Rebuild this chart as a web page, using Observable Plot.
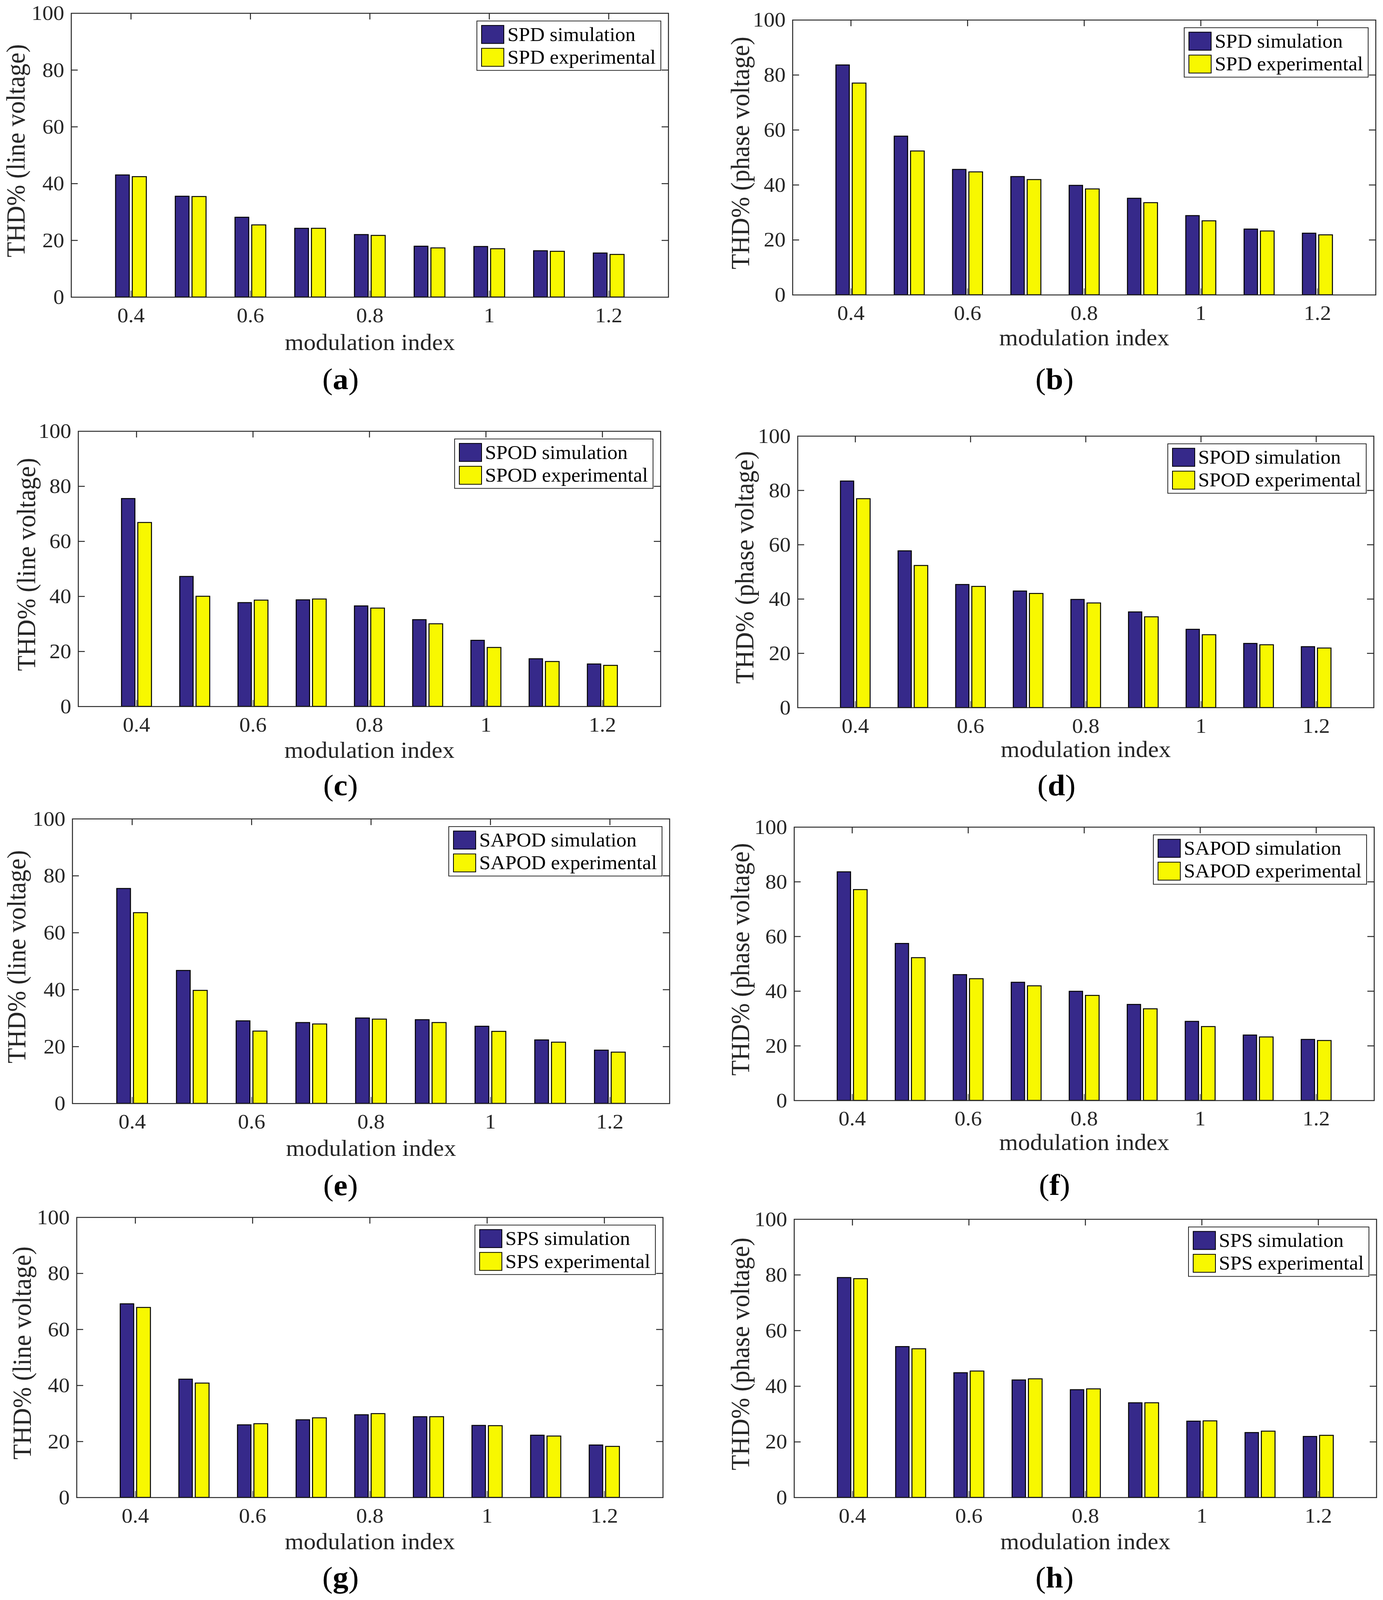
<!DOCTYPE html>
<html><head><meta charset="utf-8">
<script src="https://cdn.jsdelivr.net/npm/d3@7"></script>
<script src="https://cdn.jsdelivr.net/npm/@observablehq/plot@0.6"></script>
<style>
html,body{margin:0;padding:0;background:#fff;overflow:hidden}
#page{position:absolute;left:0;top:0;width:3541px;height:4272px;background:#fff;font-family:'Liberation Serif','Times New Roman',serif;transform-origin:0 0}
.panel{position:absolute}
.legend{position:absolute;border:2.5px solid #262626;background:#fff;padding:4px 12px 4px 10px;box-sizing:border-box}
.row{display:flex;align-items:center;height:61px}
.sw{width:59px;height:50px;border:2.5px solid #000;box-sizing:border-box;margin-right:8px;flex:none}
.lt{font-size:52px;line-height:61px;color:#000;white-space:nowrap}
.tag{position:absolute;width:400px;text-align:center;font-size:80px;line-height:90px;color:#000}
</style>
</head><body><div id="page"></div>
<script>
// ---- data ----
const mIndex = [0.4, 0.5, 0.6, 0.7, 0.8, 0.9, 1.0, 1.1, 1.2];
const xTicks = [0.4, 0.6, 0.8, 1.0, 1.2];
const xTickLabels = ["0.4", "0.6", "0.8", "1", "1.2"];
const yTicks = [0, 20, 40, 60, 80, 100];

const spdLineSim   = [43.0, 35.5, 28.1, 24.2, 22.0, 17.9, 17.8, 16.3, 15.5];
const spdLineExp   = [42.4, 35.4, 25.4, 24.2, 21.7, 17.3, 17.0, 16.1, 15.0];
const spdPhaseSim  = [83.6, 57.7, 45.6, 43.0, 39.8, 35.1, 28.8, 23.9, 22.4];
const spdPhaseExp  = [77.0, 52.3, 44.7, 41.9, 38.5, 33.5, 26.9, 23.2, 21.8];
const spodLineSim  = [75.5, 47.2, 37.7, 38.7, 36.5, 31.5, 24.0, 17.3, 15.4];
const spodLineExp  = [66.8, 40.0, 38.6, 39.0, 35.7, 30.0, 21.4, 16.3, 14.9];
const spodPhaseSim = [83.4, 57.7, 45.3, 42.9, 39.8, 35.2, 28.8, 23.6, 22.4];
const spodPhaseExp = [76.9, 52.3, 44.6, 42.0, 38.5, 33.4, 26.8, 23.1, 21.9];
const sapodLineSim = [75.5, 46.7, 29.0, 28.4, 30.0, 29.4, 27.1, 22.3, 18.7];
const sapodLineExp = [67.0, 39.7, 25.4, 27.9, 29.6, 28.4, 25.3, 21.5, 18.0];
const sapodPhaseSim= [83.6, 57.4, 46.0, 43.2, 39.9, 35.1, 28.9, 23.9, 22.3];
const sapodPhaseExp= [77.1, 52.2, 44.5, 41.9, 38.4, 33.5, 27.0, 23.2, 21.9];
const spsLineSim   = [69.1, 42.2, 25.9, 27.7, 29.5, 28.8, 25.7, 22.2, 18.7];
const spsLineExp   = [67.8, 40.8, 26.3, 28.4, 29.9, 28.8, 25.6, 21.9, 18.2];
const spsPhaseSim  = [79.0, 54.2, 44.8, 42.2, 38.7, 34.0, 27.4, 23.3, 21.9];
const spsPhaseExp  = [78.6, 53.4, 45.4, 42.6, 39.0, 34.0, 27.5, 23.8, 22.3];

const xLabel = "modulation index";
const yLabelLine = "THD% (line voltage)";
const yLabelPhase = "THD% (phase voltage)";

const panels = [
  {tag:"a", scheme:"SPD",   sim:spdLineSim,    exp:spdLineExp,    yl:yLabelLine},
  {tag:"b", scheme:"SPD",   sim:spdPhaseSim,   exp:spdPhaseExp,   yl:yLabelPhase},
  {tag:"c", scheme:"SPOD",  sim:spodLineSim,   exp:spodLineExp,   yl:yLabelLine},
  {tag:"d", scheme:"SPOD",  sim:spodPhaseSim,  exp:spodPhaseExp,  yl:yLabelPhase},
  {tag:"e", scheme:"SAPOD", sim:sapodLineSim,  exp:sapodLineExp,  yl:yLabelLine},
  {tag:"f", scheme:"SAPOD", sim:sapodPhaseSim, exp:sapodPhaseExp, yl:yLabelPhase},
  {tag:"g", scheme:"SPS",   sim:spsLineSim,    exp:spsLineExp,    yl:yLabelLine},
  {tag:"h", scheme:"SPS",   sim:spsPhaseSim,   exp:spsPhaseExp,   yl:yLabelPhase}
];

// ---- layout (pixels on a 3541 x 4272 sheet) ----
const layout = [
  {L:182,  R:1711, T:35,   B:793,  yDx:-120, xDy:121, tx:872,  ty:1017},
  {L:2029, R:3522, T:53,   B:787,  yDx:-112, xDy:115, tx:2700, ty:1017},
  {L:200,  R:1691, T:1151, B:1886, yDx:-111, xDy:117, tx:872,  ty:2102},
  {L:2042, R:3517, T:1164, B:1889, yDx:-114, xDy:112, tx:2705, ty:2102},
  {L:185,  R:1714, T:2186, B:2946, yDx:-121, xDy:120, tx:872,  ty:3170},
  {L:2033, R:3518, T:2208, B:2938, yDx:-116, xDy:112, tx:2700, ty:3168},
  {L:196,  R:1697, T:3250, B:3998, yDx:-118, xDy:118, tx:872,  ty:4217},
  {L:2033, R:3524, T:3255, B:3998, yDx:-116, xDy:118, tx:2700, ty:4217}
];

const BLUE = "#36298a", YELLOW = "#f8f800", AX = "#262626";
const page = document.getElementById("page");

// fit the 3541 x 4272 sheet into the visible viewport
function fit() {
  const sx = (window.innerWidth || 3541) / 3541;
  const sy = (window.innerHeight || 4272) / 4272;
  page.style.transform = `scale(${Math.min(sx, 1)}, ${Math.min(sy, 1)})`;
}
fit();
window.addEventListener("resize", fit);

panels.forEach((p, k) => {
  const g = layout[k];
  const mL = 200, mR = 15, mT = 40, mB = 175;
  const plotW = g.R - g.L, plotH = g.B - g.T;
  const simRows = mIndex.map((m, i) => ({m, v: p.sim[i]}));
  const expRows = mIndex.map((m, i) => ({m, v: p.exp[i]}));
  const tick = 17;
  const chart = Plot.plot({
    width: plotW + mL + mR,
    height: plotH + mT + mB,
    marginLeft: mL, marginRight: mR, marginTop: mT, marginBottom: mB,
    style: {fontFamily: "'Liberation Serif','Times New Roman',serif", fontSize: "56px", color: AX, background: "transparent", overflow: "visible"},
    x: {type: "linear", domain: [0.3, 1.3]},
    y: {type: "linear", domain: [0, 100]},
    marks: [
      Plot.ruleX(xTicks, {x: d => d, insetTop: plotH - tick, stroke: AX, strokeWidth: 1.5}),
      Plot.rectY(simRows, {x1: d => d.m - 0.0255, x2: d => d.m - 0.0025, y1: 0, y2: "v", fill: BLUE, stroke: "#000", strokeWidth: 2.5}),
      Plot.rectY(expRows, {x1: d => d.m + 0.0025, x2: d => d.m + 0.026, y1: 0, y2: "v", fill: YELLOW, stroke: "#000", strokeWidth: 2.5}),
      Plot.frame({stroke: AX, strokeWidth: 2.5}),
      Plot.ruleX(xTicks, {x: d => d, insetBottom: plotH - tick, stroke: AX, strokeWidth: 2.5}),
      Plot.ruleY(yTicks.slice(1, -1), {y: d => d, insetRight: plotW - tick, stroke: AX, strokeWidth: 2.5}),
      Plot.ruleY(yTicks.slice(1, -1), {y: d => d, insetLeft: plotW - tick, stroke: AX, strokeWidth: 2.5}),
      Plot.axisX({ticks: xTicks, tickFormat: (d, i) => xTickLabels[i], tickSize: 0, tickPadding: 27, label: null, fontSize: 56, fill: AX}),
      Plot.axisY({ticks: yTicks, tickFormat: d => String(d), tickSize: 0, tickPadding: 18, label: null, fontSize: 56, fill: AX}),
      Plot.text([xLabel], {text: d => d, frameAnchor: "bottom", dy: g.xDy, lineAnchor: "middle", textAnchor: "middle", fontSize: 62, fill: AX}),
      Plot.text([p.yl], {text: d => d, frameAnchor: "left", dx: g.yDx, dy: -12, rotate: -90, lineAnchor: "bottom", textAnchor: "middle", fontSize: 67, fill: AX})
    ]
  });
  const holder = document.createElement("div");
  holder.className = "panel";
  holder.style.left = (g.L - mL) + "px";
  holder.style.top = (g.T - mT) + "px";
  holder.appendChild(chart);
  page.appendChild(holder);

  // legend
  const lg = document.createElement("div");
  lg.className = "legend";
  lg.style.right = (3541 - (g.R - 18)) + "px";
  lg.style.top = (g.T + 20) + "px";
  [[BLUE, p.scheme + " simulation"], [YELLOW, p.scheme + " experimental"]].forEach(([c, t]) => {
    const row = document.createElement("div"); row.className = "row";
    const sw = document.createElement("div"); sw.className = "sw"; sw.style.background = c;
    const tx = document.createElement("span"); tx.className = "lt"; tx.textContent = t;
    row.appendChild(sw); row.appendChild(tx); lg.appendChild(row);
  });
  page.appendChild(lg);

  // panel tag
  const tg = document.createElement("div");
  tg.className = "tag";
  tg.style.left = (g.tx - 200) + "px";
  tg.style.top = (g.ty - 50) + "px";
  tg.innerHTML = "(<b>" + p.tag + "</b>)";
  page.appendChild(tg);
});
</script>
</body></html>
